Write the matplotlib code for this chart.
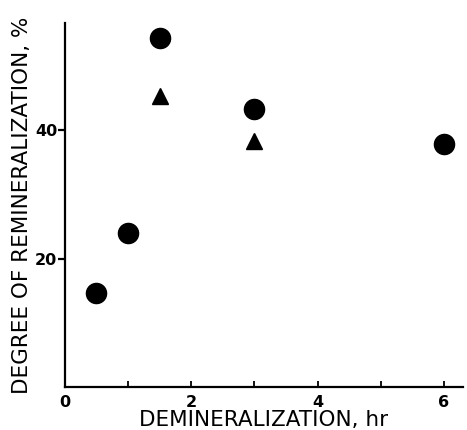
import numpy as np
import matplotlib.pyplot as plt

# degree of remineralization vs demineralization time
circ_t = [0.5, 1.0, 1.5, 3.0, 6.0]
circ_r = [14.6, 24.0, 54.3, 43.3, 37.8]
tri_t = [1.5, 3.0]
tri_r = [45.3, 38.3]

xticks = [0, 2, 4, 6]
xminor = [1, 3, 5]
yticks = [20, 40]

plt.rcParams['font.family'] = ['DejaVu Sans']

fig = plt.figure(figsize=(4.67, 4.30), dpi=100)
ax = fig.add_axes([0.139, 0.1, 0.852, 0.847])

ax.plot(circ_t, circ_r, 'o', color='black', markersize=14.5, linestyle='none')
ax.plot(tri_t, tri_r, '^', color='black', markersize=12, linestyle='none')

ax.set_xlim(0, 6.3)
ax.set_ylim(0, 56.7)

ax.spines['top'].set_visible(False)
ax.spines['right'].set_visible(False)
ax.spines['left'].set_linewidth(1.6)
ax.spines['bottom'].set_linewidth(1.6)

ax.set_xticks(xticks)
ax.set_xticks(xminor, minor=True)
ax.set_yticks(yticks)
ax.tick_params(axis='x', which='both', direction='in', length=4, width=1.3, pad=6)
ax.tick_params(axis='y', which='both', direction='out', length=5, width=1.6, pad=0.5)
ax.tick_params(labelsize=11.5)
for lab in ax.get_xticklabels() + ax.get_yticklabels():
    lab.set_fontweight('bold')

ax.set_xlabel('DEMINERALIZATION, hr', fontsize=15.5, labelpad=0)
ax.set_ylabel('DEGREE OF REMINERALIZATION, %', fontsize=15.5, labelpad=2)

fig.savefig('out.png', dpi=100)
